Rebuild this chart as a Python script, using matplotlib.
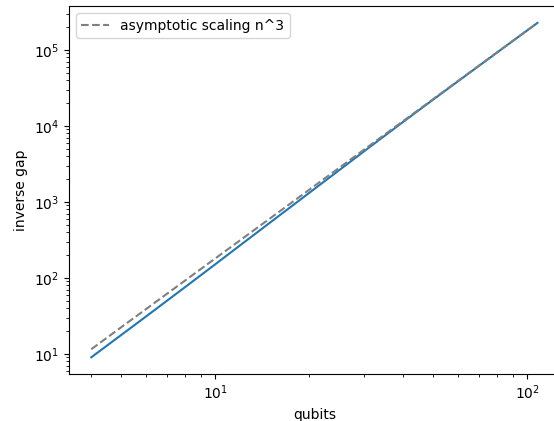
import matplotlib
matplotlib.use("Agg")
import matplotlib.pyplot as plt

# qubit counts and inverse gap
qubits = [4, 5, 6, 8, 10, 12, 15, 20, 25, 30, 40, 50, 60, 80, 100, 108]
inv_gap = [9.0, 17.8, 31.1, 75.5, 151, 267, 535, 1310, 2620, 4620,
           11230, 22160, 38490, 91700, 179500, 226300]
# asymptotic n^3 reference curve
asym = [11.5, 22.5, 38.9, 92.2, 180, 311, 607.5, 1440, 2812, 4860,
        11520, 22500, 38880, 92160, 180000, 226770]

fig = plt.figure(figsize=(5.54, 4.21), dpi=100)
ax = fig.add_axes([0.1245, 0.1116, 0.886, 0.874])
ax.plot(qubits, inv_gap)
ax.plot(qubits, asym, '--', color='grey', label='asymptotic scaling n^3')
ax.set_xscale('log')
ax.set_yscale('log')
ax.set_xlabel('qubits')
ax.set_ylabel('inverse gap')
ax.legend(loc='upper left')
fig.savefig('out.png', dpi=100)
